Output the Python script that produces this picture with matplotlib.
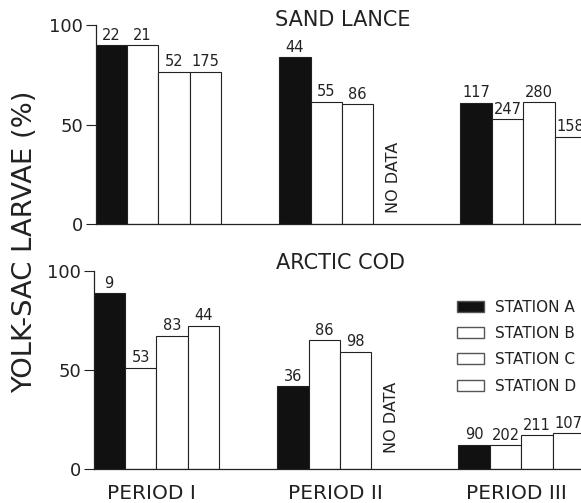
import numpy as np
import matplotlib
matplotlib.use("Agg")
import matplotlib.pyplot as plt
from matplotlib.patches import Patch

# 数据：各时期、各站位卵黄囊仔鱼百分比（NaN = 无数据）
periods = ["PERIOD I", "PERIOD II", "PERIOD III"]
stations = ["STATION A", "STATION B", "STATION C", "STATION D"]

sand_a = [90.0, 83.8, 61.0]
sand_b = [90.0, 61.5, 52.6]
sand_c = [76.5, 60.2, 61.1]
sand_d = [76.5, np.nan, 43.9]
sand_n = [[22, 44, 117], [21, 55, 247], [52, 86, 280], [175, None, 158]]

cod_a = [88.6, 41.9, 12.3]
cod_b = [51.1, 65.1, 12.0]
cod_c = [67.2, 59.2, 17.0]
cod_d = [72.3, np.nan, 18.0]
cod_n = [[9, 36, 90], [53, 86, 202], [83, 98, 211], [44, None, 107]]

group_start = np.array([0.0, 5.85, 11.62])
colors = ["#111111", "white", "white", "white"]

plt.rcParams['font.family'] = ['DejaVu Sans']

fig = plt.figure(figsize=(5.81, 5.03), dpi=100)
W, H = 581, 503
ax1 = fig.add_axes([95.5 / W, 1 - 224 / H, (W - 95.5) / W, 199 / H])
ax2 = fig.add_axes([93.5 / W, 1 - 469 / H, (W - 93.5) / W, 198.3 / H])


def draw(ax, series, counts, xmax, nodata_y):
    for i, vals in enumerate(series):
        x = group_start + i
        ax.bar(x, vals, width=1.0, align='edge', color=colors[i],
               edgecolor='#222222', linewidth=0.8)
        for xb, v, n in zip(x, vals, counts[i]):
            if n is None or np.isnan(v):
                continue
            ax.text(xb + 0.5, v + 1.2, str(n), ha='center', va='bottom',
                    fontsize=10.5, color='#222222')
    ax.text(group_start[1] + 3.63, nodata_y, "NO DATA", rotation=90,
            ha='center', va='bottom', fontsize=11.5, color='#222222')
    ax.set_xlim(0, xmax)
    ax.set_ylim(0, 100)
    ax.set_yticks([0, 50, 100])
    ax.tick_params(axis='y', direction='out', length=7, width=0.8,
                   labelsize=13, pad=2, colors='#222222')
    for s in ['top', 'right']:
        ax.spines[s].set_visible(False)
    for s in ['left', 'bottom']:
        ax.spines[s].set_linewidth(0.9)
        ax.spines[s].set_color('#222222')


draw(ax1, [sand_a, sand_b, sand_c, sand_d], sand_n, (W - 95.5) / 31.4, 5.5)
draw(ax2, [cod_a, cod_b, cod_c, cod_d], cod_n, (W - 93.5) / 31.4, 8)

ax1.set_xticks([])
ax2.set_xticks(group_start + 1.85)
ax2.set_xticklabels(periods, fontsize=14.5, color='#222222')
ax2.tick_params(axis='x', length=0, pad=11)

fig.text(343 / W, 1 - 20 / H, "SAND LANCE", ha='center', va='center',
         fontsize=15, color='#222222')
fig.text(341 / W, 1 - 263 / H, "ARCTIC COD", ha='center', va='center',
         fontsize=15, color='#222222')
fig.text(25 / W, 1 - 242 / H, "YOLK-SAC LARVAE (%)", rotation=90,
         ha='center', va='center', fontsize=19.7, color='#222222')

handles = [Patch(facecolor=c, edgecolor='#555555', linewidth=1.0, label=s)
           for c, s in zip(colors, stations)]
ax2.legend(handles=handles, loc='upper left',
           bbox_to_anchor=(456.7 / W, 1 - 299.6 / H),
           bbox_transform=fig.transFigure, frameon=False, fontsize=11,
           handlelength=1.77, handleheight=0.72, labelspacing=0.74,
           handletextpad=0.72, borderpad=0, borderaxespad=0,
           labelcolor='#222222')

fig.savefig("out.png", dpi=100)
